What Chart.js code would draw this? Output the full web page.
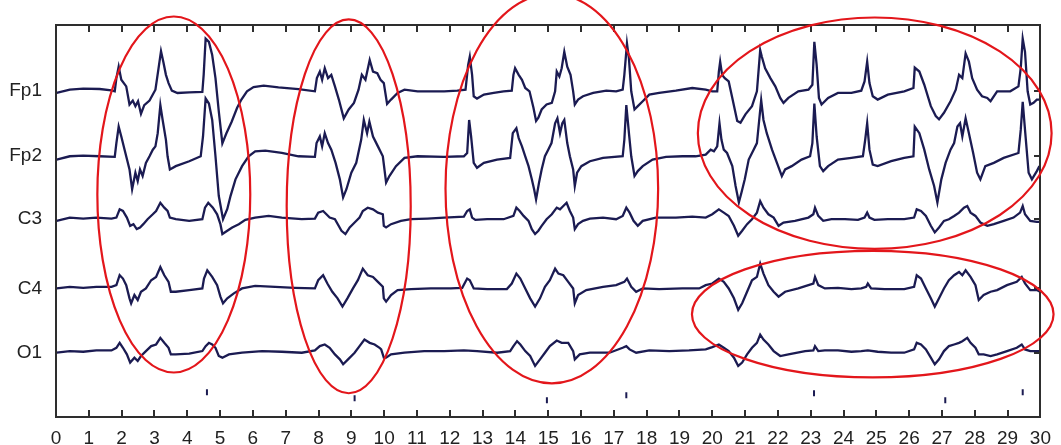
<!DOCTYPE html>
<html>
<head>
<meta charset="utf-8">
<title>EEG recording</title>
<script src="https://cdn.jsdelivr.net/npm/chart.js@4.4.1/dist/chart.umd.min.js"></script>
<style>
  html, body { margin: 0; padding: 0; background: #ffffff; }
  #wrap { width: 1061px; height: 445px; }
</style>
</head>
<body>
<div id="wrap"><canvas id="eeg" width="1061" height="445"></canvas></div>
<script>
// Channel names and their display baselines (µV on the stacked axis)
const channels = ['Fp1', 'Fp2', 'C3', 'C4', 'O1'];
const channelOffset = [990, 792, 600, 390, 195];

// Seconds tick labels on the time axis
const secondTicks = [0,1,2,3,4,5,6,7,8,9,10,11,12,13,14,15,16,17,18,19,20,21,22,23,24,25,26,27,28,29,30];

// Each channel: [time (s), amplitude (µV)]
const fp1 = [
  [0.02,-7],[0.42,3],[0.83,6],[1.33,5],[1.69,1],[1.79,-2],[1.84,38],[1.91,73],[1.99,33],[2.14,13],
  [2.24,-42],[2.34,-30],[2.42,-47],[2.50,-32],[2.59,-70],[2.69,-44],[2.85,-30],[3.03,3],[3.11,58],[3.20,120],
  [3.27,88],[3.35,48],[3.43,23],[3.53,0],[3.70,-7],[4.06,-5],[4.46,-4],[4.50,48],[4.56,158],[4.66,148],
  [4.76,108],[4.86,38],[4.96,-62],[5.07,-160],[5.19,-130],[5.35,-95],[5.52,-52],[5.65,-27],[5.82,-2],[6.02,11],
  [6.33,15],[6.78,10],[7.39,5],[7.89,-2],[7.95,38],[8.04,58],[8.11,33],[8.19,68],[8.29,38],[8.39,48],
  [8.50,13],[8.62,-27],[8.77,-84],[8.92,-57],[9.08,-37],[9.22,3],[9.32,48],[9.43,33],[9.56,93],[9.66,58],
  [9.79,53],[9.89,33],[9.99,23],
  [10.09,-40],[10.21,-27],[10.41,-7],[10.62,3],[11.02,-2],[11.42,-2],[11.83,-2],[12.23,0],[12.48,3],[12.56,78],
  [12.61,103],[12.68,48],[12.73,-17],[12.83,-24],[13.04,-12],[13.34,-7],[13.64,-2],[13.89,0],[13.94,48],[13.99,68],
  [14.10,48],[14.20,33],[14.30,8],[14.43,-2],[14.55,-52],[14.63,-92],[14.70,-82],[14.80,-57],[14.95,-42],[15.11,-37],
  [15.21,-2],[15.26,58],[15.34,43],[15.41,68],[15.49,118],[15.58,73],[15.68,48],[15.76,-2],[15.81,-42],[15.91,-27],
  [16.06,-17],[16.37,-7],[16.77,0],[17.07,-2],[17.27,3],[17.32,48],[17.40,143],[17.46,98],[17.53,-2],[17.63,-57],
  [17.73,-47],[17.88,-32],[18.08,-12],[18.38,-7],[18.89,0],[19.39,8],
  [19.80,3],[20.00,-2],[20.15,-2],[20.20,58],[20.24,88],[20.30,48],[20.38,38],[20.50,28],[20.61,-22],[20.76,-92],
  [20.86,-97],[21.01,-72],[21.21,-47],[21.36,-2],[21.46,123],[21.51,103],[21.61,68],[21.77,38],[21.92,13],[22.07,-22],
  [22.17,-37],[22.32,-22],[22.62,-2],[22.93,3],[23.05,18],[23.11,148],[23.18,78],[23.25,-22],[23.33,-42],[23.53,-22],
  [23.83,-7],[24.24,-7],[24.54,0],[24.64,28],[24.72,88],[24.79,23],[24.89,-17],[25.04,-27],[25.35,-12],[25.85,-2],
  [26.13,8],[26.17,70],[26.31,58],[26.46,18],[26.66,-47],[26.81,-77],[26.91,-87],[27.06,-67],[27.26,-32],[27.42,3],
  [27.52,48],[27.62,38],[27.72,113],[27.82,88],[27.92,38],[28.07,3],[28.22,-17],[28.38,-22],[28.48,-32],[28.68,-2],
  [29.08,-2],[29.33,13],[29.40,68],[29.46,158],[29.53,118],[29.61,-2],[29.69,-42],[29.79,-37],[29.89,-27],[29.97,-27]
];

const fp2 = [
  [0.02,-11],[0.42,-1],[0.83,1],[1.33,-1],[1.79,-3],[1.84,39],[1.91,89],[1.99,59],[2.09,19],[2.24,-41],
  [2.32,-101],[2.42,-51],[2.49,-76],[2.56,-41],[2.64,-61],[2.74,-21],[2.85,-1],[2.95,19],[3.03,29],[3.10,69],
  [3.18,154],[3.25,109],[3.35,49],[3.40,-1],[3.47,-41],[3.65,-31],[4.06,-16],[4.41,-1],[4.48,59],[4.56,174],
  [4.66,159],[4.76,109],[4.86,-1],[4.96,-121],[5.09,-192],[5.22,-161],[5.32,-121],[5.47,-71],[5.67,-31],[5.87,-1],
  [6.07,14],[6.38,16],[6.88,9],[7.39,-1],[7.89,-3],[7.94,39],[8.04,59],[8.11,29],[8.19,69],[8.29,39],
  [8.39,19],[8.52,-21],[8.65,-71],[8.75,-126],[8.85,-101],[9.00,-51],[9.15,-21],[9.30,49],[9.38,109],[9.48,69],
  [9.55,104],[9.66,59],[9.81,29],[9.96,-1],
  [10.06,-81],[10.16,-61],[10.36,-31],[10.62,-6],[11.02,-1],[11.83,-3],[12.43,-1],[12.53,9],[12.59,109],[12.65,59],
  [12.73,-21],[12.83,-36],[13.04,-21],[13.44,-11],[13.84,-6],[13.92,69],[14.03,84],[14.10,54],[14.20,29],[14.30,-1],
  [14.40,-31],[14.50,-71],[14.57,-101],[14.63,-132],[14.72,-81],[14.80,-41],[14.90,-1],[15.00,19],[15.10,39],[15.21,99],
  [15.28,114],[15.36,69],[15.43,99],[15.49,109],[15.58,39],[15.66,-1],[15.76,-41],[15.81,-91],[15.88,-51],[16.01,-31],
  [16.27,-16],[16.67,-6],[17.27,-1],[17.32,49],[17.38,154],[17.46,69],[17.53,-1],[17.63,-61],[17.73,-46],[17.88,-31],
  [18.18,-11],[18.59,-3],[19.09,-1],[19.49,-1],
  [19.80,4],[19.95,19],[20.05,14],[20.15,29],[20.22,99],[20.28,49],[20.35,19],[20.45,9],[20.61,-31],[20.71,-91],
  [20.81,-141],[20.89,-111],[20.99,-71],[21.11,-11],[21.26,19],[21.36,39],[21.43,109],[21.49,169],[21.56,109],[21.66,69],
  [21.82,19],[21.97,-21],[22.12,-61],[22.22,-41],[22.42,-31],[22.72,-11],[22.98,-1],[23.05,39],[23.11,159],[23.18,59],
  [23.28,-31],[23.38,-46],[23.53,-31],[23.83,-11],[24.24,-6],[24.59,-1],[24.66,49],[24.72,99],[24.79,19],[24.89,-26],
  [25.04,-31],[25.45,-16],[25.85,-6],[26.13,-1],[26.17,89],[26.31,69],[26.46,19],[26.61,-41],[26.76,-91],[26.86,-141],
  [26.98,-71],[27.11,-21],[27.26,19],[27.37,39],[27.47,89],[27.55,99],[27.62,59],[27.72,114],[27.82,69],[27.95,9],
  [28.07,-51],[28.17,-71],[28.32,-31],[28.58,-21],[28.88,-6],[29.33,9],[29.40,79],[29.46,164],[29.53,79],[29.64,-51],
  [29.74,-71],[29.89,-46],[29.97,-31]
];

const c3 = [
  [0.02,-5],[0.42,5],[0.83,2],[1.23,5],[1.69,2],[1.84,5],[1.94,30],[2.04,25],[2.16,5],[2.26,-20],
  [2.36,-15],[2.46,-30],[2.56,-25],[2.66,-15],[2.79,0],[2.95,15],[3.05,25],[3.18,50],[3.30,35],[3.40,25],
  [3.47,5],[3.65,0],[4.06,-5],[4.46,0],[4.54,35],[4.64,50],[4.78,35],[4.91,15],[5.01,-15],[5.07,-45],
  [5.22,-35],[5.37,-25],[5.57,-15],[5.77,-2],[6.07,5],[6.48,10],[6.88,5],[7.49,0],[7.89,2],[7.99,20],
  [8.14,25],[8.24,15],[8.34,5],[8.50,0],[8.70,-35],[8.82,-45],[8.95,-25],[9.10,-10],[9.25,5],[9.35,25],
  [9.50,35],[9.66,30],[9.81,20],[9.96,15],
  [9.99,-20],[10.06,-25],[10.21,-15],[10.51,-5],[10.82,0],[11.32,2],[11.83,5],[12.43,8],[12.53,25],[12.61,30],
  [12.68,5],[12.78,-2],[13.14,0],[13.64,0],[13.94,10],[14.03,35],[14.13,25],[14.25,10],[14.40,-5],[14.50,-30],
  [14.60,-45],[14.70,-35],[14.80,-20],[14.95,0],[15.11,15],[15.26,35],[15.36,30],[15.46,40],[15.56,50],[15.66,25],
  [15.76,5],[15.81,-30],[15.91,-15],[16.06,-5],[16.27,2],[16.67,5],[17.07,0],[17.27,10],[17.38,35],[17.48,20],
  [17.60,-5],[17.73,-20],[17.88,-5],[18.28,5],[18.89,5],[19.39,8],
  [19.80,5],[20.00,15],[20.20,30],[20.35,20],[20.50,10],[20.66,-20],[20.79,-50],[20.91,-35],[21.06,-15],[21.21,0],
  [21.36,20],[21.46,55],[21.56,35],[21.71,15],[21.87,5],[22.02,-20],[22.17,-10],[22.52,-5],[22.93,5],[23.08,15],
  [23.13,35],[23.23,10],[23.38,-5],[23.63,0],[24.04,0],[24.44,-2],[24.64,5],[24.72,20],[24.79,5],[24.94,-2],
  [25.35,0],[25.85,0],[26.15,5],[26.23,30],[26.36,25],[26.51,10],[26.66,-20],[26.78,-40],[26.91,-25],[27.06,-5],
  [27.21,0],[27.37,10],[27.52,20],[27.67,35],[27.77,40],[27.87,20],[28.02,10],[28.17,-10],[28.38,-20],[28.58,-15],
  [28.88,-5],[29.18,5],[29.38,20],[29.46,40],[29.53,15],[29.69,-5],[29.89,-8],[29.99,-8]
];

const c4 = [
  [0.02,0],[0.42,5],[0.83,2],[1.23,5],[1.69,5],[1.84,10],[1.94,40],[2.04,30],[2.14,10],[2.24,-30],
  [2.29,-45],[2.39,-20],[2.49,-35],[2.59,-10],[2.74,0],[2.90,25],[3.05,35],[3.18,65],[3.30,40],[3.43,20],
  [3.50,-10],[3.65,-10],[4.06,-5],[4.46,0],[4.51,30],[4.61,55],[4.76,35],[4.91,10],[5.01,-25],[5.09,-45],
  [5.22,-30],[5.42,-15],[5.67,0],[6.07,8],[6.68,5],[7.28,2],[7.89,0],[7.99,25],[8.14,40],[8.27,15],
  [8.42,-10],[8.58,-30],[8.73,-55],[8.88,-30],[9.05,0],[9.20,25],[9.35,60],[9.50,40],[9.66,35],[9.81,20],
  [9.96,5],
  [9.99,-30],[10.06,-40],[10.21,-20],[10.41,-5],[10.82,-2],[11.42,0],[12.03,0],[12.38,2],[12.53,30],[12.61,25],
  [12.73,0],[13.14,-2],[13.74,-2],[13.89,15],[14.03,45],[14.15,30],[14.30,0],[14.45,-30],[14.60,-55],[14.75,-30],
  [14.90,5],[15.05,25],[15.21,60],[15.31,45],[15.46,40],[15.61,20],[15.76,0],[15.81,-45],[15.91,-20],[16.16,-5],
  [16.67,5],[17.07,10],[17.32,20],[17.40,30],[17.53,5],[17.68,-10],[17.88,0],[18.38,-2],[19.09,0],[19.60,0],
  [19.80,10],[20.00,15],[20.20,30],[20.35,20],[20.50,0],[20.66,-30],[20.79,-65],[20.91,-45],[21.06,-10],[21.21,25],
  [21.36,35],[21.46,75],[21.56,45],[21.71,10],[21.87,-10],[22.02,-25],[22.22,-10],[22.62,0],[22.93,10],[23.08,15],
  [23.13,35],[23.23,10],[23.43,0],[23.83,2],[24.24,-2],[24.54,0],[24.69,5],[24.74,15],[24.84,0],[25.25,-2],
  [25.85,-2],[26.15,5],[26.23,40],[26.36,30],[26.51,0],[26.66,-30],[26.78,-55],[26.91,-30],[27.06,0],[27.21,25],
  [27.37,40],[27.52,50],[27.62,40],[27.72,55],[27.87,35],[28.02,10],[28.12,-35],[28.27,-20],[28.48,-10],[28.68,-5],
  [28.98,10],[29.28,20],[29.43,35],[29.53,15],[29.69,-5],[29.89,-5],[29.99,-10]
];

const o1 = [
  [0.02,0],[0.42,5],[0.83,3],[1.23,7],[1.69,7],[1.84,15],[1.94,30],[2.04,15],[2.16,-5],[2.26,-30],
  [2.39,-15],[2.49,-25],[2.59,-10],[2.74,5],[2.90,20],[3.05,25],[3.18,45],[3.30,30],[3.43,15],[3.50,-5],
  [3.65,-5],[4.06,-3],[4.46,5],[4.56,20],[4.66,30],[4.76,25],[4.86,15],[4.96,-10],[5.07,-15],[5.27,-5],
  [5.67,0],[6.28,5],[6.88,3],[7.49,0],[7.89,7],[8.04,20],[8.19,25],[8.34,15],[8.50,-5],[8.65,-20],
  [8.75,-35],[8.90,-20],[9.10,0],[9.25,20],[9.40,40],[9.56,30],[9.71,25],[9.86,15],
  [9.91,10],[9.99,-15],[10.06,-15],[10.21,-5],[10.62,0],[11.22,5],[11.83,5],[12.43,7],[12.83,5],[13.44,0],
  [13.84,5],[13.94,20],[14.05,35],[14.15,25],[14.30,5],[14.45,-10],[14.60,-40],[14.75,-20],[14.90,0],[15.05,20],
  [15.26,37],[15.41,30],[15.61,30],[15.76,5],[15.81,-20],[15.96,-5],[16.27,0],[16.87,0],[17.27,15],[17.38,20],
  [17.48,10],[17.68,0],[18.08,7],[18.69,5],[19.29,7],
  [19.80,10],[20.00,17],[20.20,25],[20.35,15],[20.50,5],[20.66,-15],[20.79,-40],[20.91,-30],[21.06,-5],[21.21,15],
  [21.36,30],[21.46,55],[21.56,40],[21.71,25],[21.87,5],[22.07,-10],[22.32,-5],[22.83,5],[23.08,7],[23.13,20],
  [23.23,5],[23.43,7],[23.83,7],[24.24,3],[24.54,5],[24.74,7],[25.04,3],[25.45,0],[25.85,0],[26.15,10],
  [26.23,30],[26.36,25],[26.51,10],[26.66,-15],[26.78,-35],[26.91,-20],[27.06,5],[27.21,20],[27.37,25],[27.52,30],
  [27.62,35],[27.77,45],[27.87,30],[28.02,15],[28.12,-5],[28.27,-5],[28.48,-10],[28.68,-5],[28.98,5],[29.28,15],
  [29.43,25],[29.53,10],[29.69,5],[29.89,5],[29.99,5]
];

const channelSignals = [fp1, fp2, c3, c4, o1];

// Event marker times (s) and their heights on the stacked axis (µV)
const eventTime = [4.6, 9.1, 14.96, 17.38, 23.1, 27.1, 29.46];
const eventLevel = [75, 57, 51, 66, 72, 51, 75];

// Highlighted discharge windows: [start s, end s, low µV, high µV]
const highlightWindows = [
  [1.26, 5.92, 135, 1215],
  [7.03, 10.81, 72, 1206],
  [11.87, 18.35, 102, 1284],
  [19.56, 30.34, 510, 1212],
  [19.38, 30.40, 120, 504]
];

const traceColor = '#1b1b52';
const frameColor = '#2e2e2e';
const markColor = '#e3161b';

const datasets = channelSignals.map((sig, i) => ({
  label: channels[i],
  data: sig.map(([t, v]) => ({ x: t, y: v + channelOffset[i] })),
  borderColor: traceColor,
  borderWidth: 2.3,
  pointRadius: 0,
  tension: 0,
  fill: false
}));

datasets.push({
  type: 'scatter',
  label: 'events',
  data: eventTime.map((t, i) => ({ x: t, y: eventLevel[i] })),
  pointStyle: 'line',
  rotation: 90,
  pointRadius: 3,
  borderColor: traceColor,
  borderWidth: 2
});

// Plot frame with inward tick marks (bottom, top, right), filled as solid bars
const framePlugin = {
  id: 'frame',
  afterDraw(chart) {
    const { ctx, chartArea: a, scales: { x, y } } = chart;
    const L = Math.round(a.left), R = Math.round(a.right), T = Math.round(a.top), B = Math.round(a.bottom);
    ctx.save();
    ctx.fillStyle = frameColor;
    ctx.fillRect(L - 1, T - 1, R - L + 2, 2);   // top
    ctx.fillRect(L - 1, B - 1, R - L + 2, 2);   // bottom
    ctx.fillRect(L - 1, T - 1, 2, B - T + 2);   // left
    ctx.fillRect(R - 1, T - 1, 2, B - T + 2);   // right
    secondTicks.forEach(s => {
      const px = Math.round(x.getPixelForValue(s));
      ctx.fillRect(px - 1, B - 7, 2, 7);
      ctx.fillRect(px - 1, T, 2, 7);
    });
    channelOffset.forEach(v => {
      const py = Math.round(y.getPixelForValue(v));
      ctx.fillRect(R - 6, py - 1, 6, 2);
    });
    ctx.restore();
  }
};

// Red outlines around the highlighted windows
const highlightPlugin = {
  id: 'highlights',
  afterDraw(chart) {
    const { ctx, scales: { x, y } } = chart;
    ctx.save();
    ctx.strokeStyle = markColor;
    ctx.lineWidth = 2.2;
    highlightWindows.forEach(([t0, t1, v0, v1]) => {
      const xa = x.getPixelForValue(t0), xb = x.getPixelForValue(t1);
      const ya = y.getPixelForValue(v1), yb = y.getPixelForValue(v0);
      ctx.beginPath();
      ctx.ellipse((xa + xb) / 2, (ya + yb) / 2, Math.abs(xb - xa) / 2, Math.abs(yb - ya) / 2, 0, 0, Math.PI * 2);
      ctx.stroke();
    });
    ctx.restore();
  }
};

const labelFont = "'Liberation Sans', Arial, sans-serif";

new Chart(document.getElementById('eeg'), {
  type: 'line',
  data: { datasets },
  options: {
    responsive: false,
    animation: false,
    devicePixelRatio: 1,
    layout: { padding: { top: 21, right: 14, left: 0, bottom: 0 } },
    plugins: { legend: { display: false }, tooltip: { enabled: false } },
    scales: {
      x: {
        type: 'linear',
        min: 0,
        max: 30,
        afterBuildTicks: s => { s.ticks = secondTicks.map(v => ({ value: v })); },
        afterFit: s => { s.height = 28; },
        grid: { display: false, drawTicks: false },
        border: { display: false },
        ticks: {
          autoSkip: false,
          maxRotation: 0,
          padding: 10,
          color: '#222',
          font: { family: labelFont, size: 19 },
          callback: v => String(v)
        }
      },
      y: {
        type: 'linear',
        min: 0,
        max: 1188,
        afterBuildTicks: s => { s.ticks = channelOffset.map(v => ({ value: v })); },
        afterFit: s => { s.width = 56; },
        grid: { display: false, drawTicks: false },
        border: { display: false },
        ticks: {
          padding: 14,
          color: '#222',
          font: { family: labelFont, size: 19 },
          callback: v => channels[channelOffset.indexOf(v)]
        }
      }
    }
  },
  plugins: [framePlugin, highlightPlugin]
});
</script>
</body>
</html>
